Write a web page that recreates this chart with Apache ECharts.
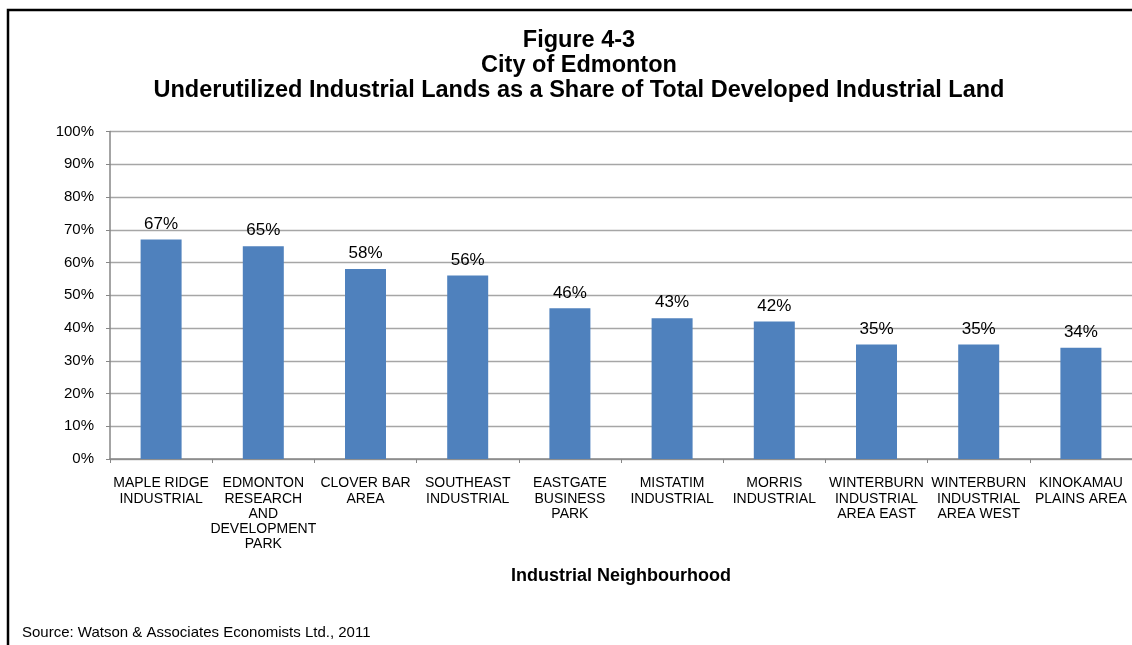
<!DOCTYPE html>
<html>
<head>
<meta charset="utf-8">
<style>
  html, body { margin: 0; padding: 0; background: #fff; }
  #chart { width: 1132px; height: 645px; }
</style>
<script src="https://cdn.jsdelivr.net/npm/echarts@6/dist/echarts.min.js"></script>
</head>
<body>
<div id="chart"></div>
<script>
// Industrial neighbourhoods (line breaks as laid out under each bar)
const neighbourhoods = [
  'MAPLE RIDGE\nINDUSTRIAL',
  'EDMONTON\nRESEARCH\nAND\nDEVELOPMENT\nPARK',
  'CLOVER BAR\nAREA',
  'SOUTHEAST\nINDUSTRIAL',
  'EASTGATE\nBUSINESS\nPARK',
  'MISTATIM\nINDUSTRIAL',
  'MORRIS\nINDUSTRIAL',
  'WINTERBURN\nINDUSTRIAL\nAREA EAST',
  'WINTERBURN\nINDUSTRIAL\nAREA WEST',
  'KINOKAMAU\nPLAINS AREA'
];

// Underutilized share of developed industrial land, percent
const underutilizedShare = [67, 65, 58, 56, 46, 43, 42, 35, 35, 34];

const titleLines = [
  'Figure 4-3',
  'City of Edmonton',
  'Underutilized Industrial Lands as a Share of Total Developed Industrial Land'
];
const xAxisTitle = 'Industrial Neighbourhood';
const sourceNote = 'Source: Watson & Associates Economists Ltd., 2011';

const FONT = '"Liberation Sans", Arial, sans-serif';

const chart = echarts.init(document.getElementById('chart'), null, { renderer: 'canvas' });

chart.setOption({
  animation: false,
  backgroundColor: '#ffffff',
  textStyle: { fontFamily: FONT },
  title: {
    text: titleLines.join('\n'),
    left: 574,
    top: 23,
    textAlign: 'center',
    textStyle: {
      fontFamily: FONT,
      fontSize: 23.5,
      fontWeight: 'bold',
      color: '#000',
      lineHeight: 25
    }
  },
  grid: {
    left: 110,
    right: 0,
    top: 131.5,
    bottom: 645 - 459,
    containLabel: false
  },
  xAxis: {
    type: 'category',
    data: neighbourhoods,
    boundaryGap: true,
    name: xAxisTitle,
    nameLocation: 'middle',
    nameGap: 108,
    nameTextStyle: {
      fontFamily: FONT,
      fontSize: 18,
      fontWeight: 'bold',
      color: '#000'
    },
    axisLine: { show: true, lineStyle: { color: '#868686', width: 1.5 } },
    axisTick: {
      show: true,
      alignWithLabel: false,
      length: 4,
      lineStyle: { color: '#868686', width: 1 }
    },
    axisLabel: {
      interval: 0,
      margin: 17,
      fontFamily: FONT,
      fontSize: 14,
      lineHeight: 15.2,
      color: '#000',
      align: 'center',
      verticalAlign: 'top'
    },
    splitLine: { show: false }
  },
  yAxis: {
    type: 'value',
    min: 0,
    max: 100,
    interval: 10,
    axisLine: { show: true, lineStyle: { color: '#868686', width: 1.5 } },
    axisTick: { show: true, length: 4, lineStyle: { color: '#868686', width: 1 } },
    axisLabel: {
      margin: 16,
      fontFamily: FONT,
      fontSize: 15,
      color: '#000',
      formatter: v => v + '%'
    },
    splitLine: { show: true, lineStyle: { color: '#a6a6a6', width: 1.3 } }
  },
  series: [{
    type: 'bar',
    data: underutilizedShare,
    barWidth: 41,
    itemStyle: { color: '#4f81bd' },
    label: {
      show: true,
      position: 'top',
      distance: 7,
      fontFamily: FONT,
      fontSize: 17,
      color: '#000',
      formatter: p => p.value + '%'
    }
  }],
  graphic: [
    {
      type: 'rect',
      silent: true,
      shape: { x: 8, y: 10, width: 1300, height: 800 },
      style: { fill: 'none', stroke: '#000', lineWidth: 2.5 }
    },
    {
      type: 'text',
      left: 22,
      top: 625,
      style: {
        text: sourceNote,
        fontFamily: FONT,
        fontSize: 15,
        fill: '#000'
      }
    }
  ]
});
</script>
</body>
</html>
